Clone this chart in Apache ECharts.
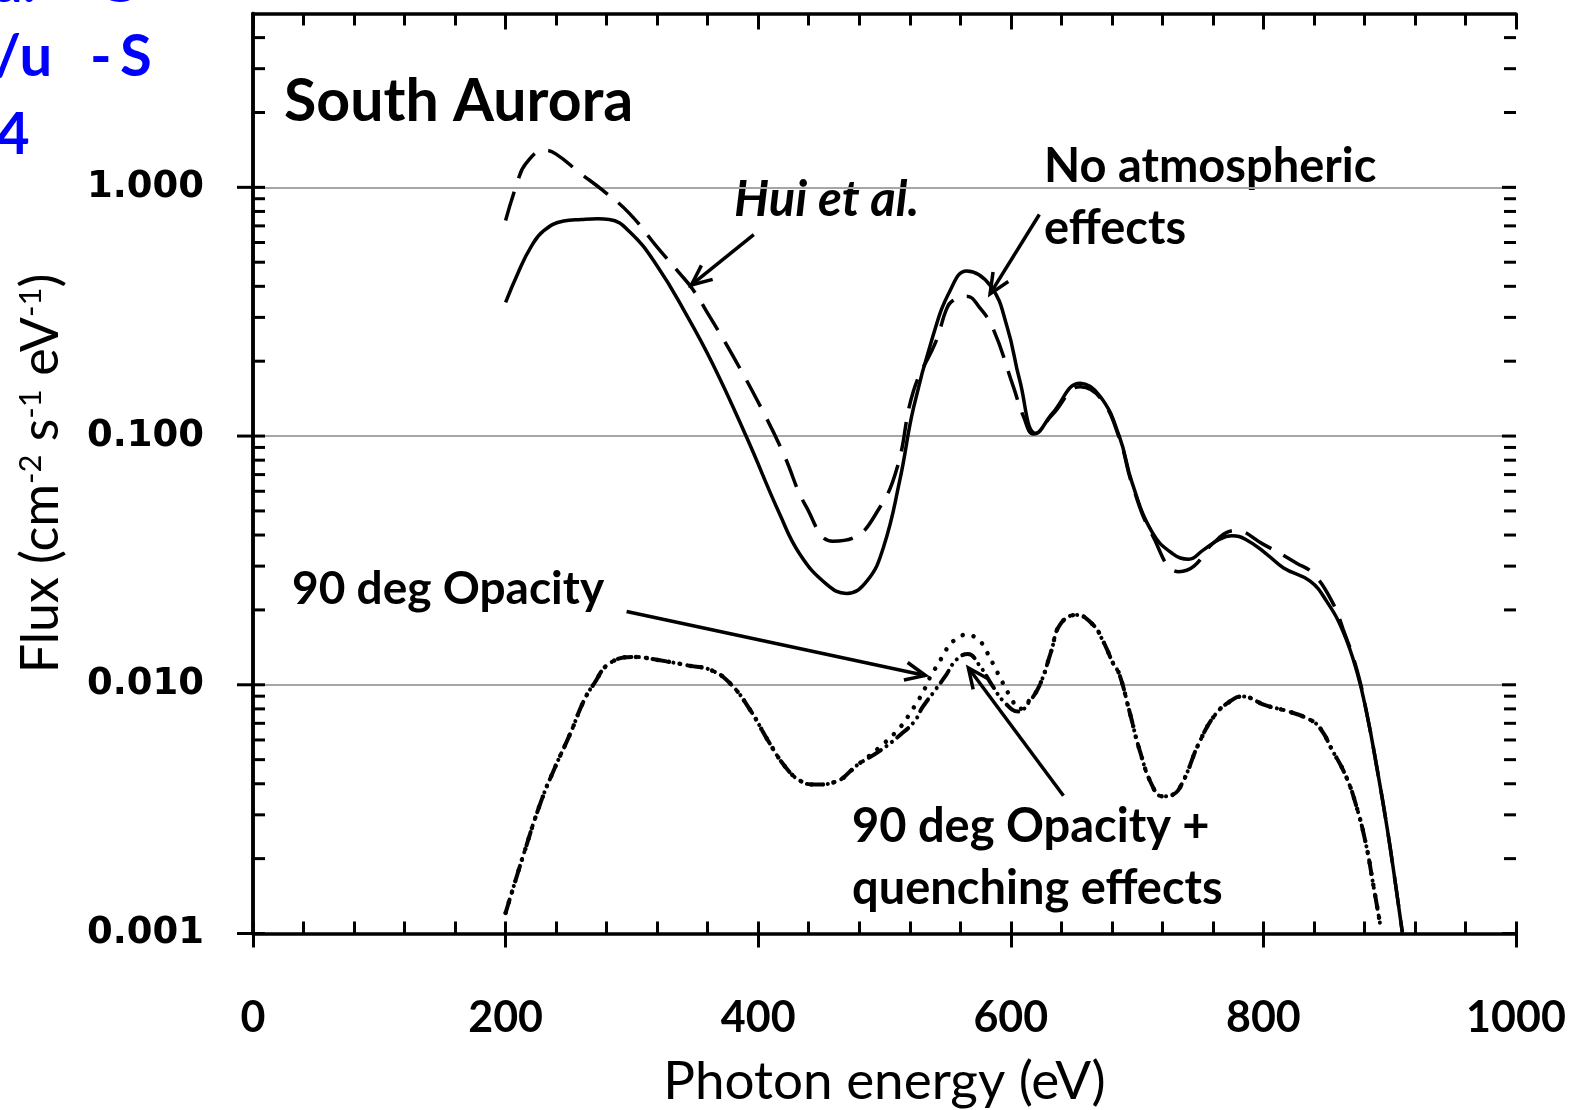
<!DOCTYPE html>
<html>
<head>
<meta charset="utf-8">
<script src="https://cdn.jsdelivr.net/npm/echarts@6/dist/echarts.min.js"></script>
<style>
html,body{margin:0;padding:0;background:#ffffff;}
#chart{width:1576px;height:1110px;}
</style>
</head>
<body>
<div id="chart"></div>
<script>
// ---------------- data (photon energy in eV, flux in cm^-2 s^-1 eV^-1) ----------------
const noAtmEnergy = [200,210,220,230,246,260,273,282,299,320,342,364,391,417,433,454,470,486,499,512,523,538,552,565,584,597,607,620,633,655,671,686,696,712,728,741,752,765,775,786,802,816,837,850,863,874,882,890,898,904,910];
const noAtmFlux = [0.345,0.455,0.575,0.668,0.732,0.742,0.747,0.743,0.657,0.483,0.315,0.195,0.0984,0.0486,0.0335,0.0254,0.0233,0.0261,0.0355,0.066,0.130,0.249,0.385,0.461,0.401,0.276,0.168,0.1025,0.1235,0.163,0.144,0.0994,0.065,0.041,0.0337,0.032,0.0347,0.0384,0.0397,0.0384,0.0337,0.0295,0.0261,0.0217,0.0164,0.0113,0.0076,0.0046,0.00265,0.00166,0.00101];

const huiEnergy = [200,209,216,231,240,259,277,298,320,338,348,362,380,404,420,438,459,475,496,510,523,541,549,554,565,575,586,602,610,618,633,655,671,686,696,712,733,745,760,778,800,826,840,855,863,874,882,890,898,904,910];
const huiFlux = [0.736,1.035,1.245,1.41,1.36,1.14,0.972,0.786,0.575,0.45,0.39,0.30,0.21,0.125,0.085,0.052,0.0378,0.0389,0.0514,0.0745,0.152,0.242,0.323,0.35,0.365,0.33,0.27,0.158,0.12,0.102,0.122,0.158,0.142,0.098,0.064,0.040,0.0285,0.030,0.037,0.0417,0.0367,0.0309,0.0278,0.0213,0.0168,0.0115,0.0076,0.0046,0.00265,0.00166,0.00101];

const opacityEnergy = [200,214,228,239,251,262,270,282,301,321,344,363,378,394,408,422,434,445,462,479,496,513,521,527,532,537,543,548,555,565,575,581,586,591,600,607,615,623,632,639,652,665,673,681,686,694,702,712,720,728,736,749,762,775,783,802,818,834,844,855,865,873,881,887,893];
const opacityFlux = [0.00121,0.00206,0.00339,0.00464,0.00633,0.00863,0.0101,0.01216,0.01294,0.01257,0.01197,0.01143,0.0101,0.00787,0.00594,0.00464,0.00409,0.00397,0.00409,0.00478,0.0056,0.0068,0.0078,0.0087,0.00966,0.01096,0.01223,0.01363,0.01506,0.0159,0.01506,0.01355,0.01213,0.01081,0.0089,0.0080,0.0087,0.0100,0.01364,0.01746,0.0191,0.01746,0.0150,0.0122,0.0110,0.0078,0.00546,0.00393,0.00356,0.00361,0.00405,0.00583,0.0076,0.00867,0.00897,0.00826,0.00786,0.00735,0.00678,0.0054,0.00433,0.00333,0.00231,0.00157,0.00105];

const quenchEnergy = [200,214,228,239,251,262,270,282,301,321,344,363,378,394,408,422,434,445,462,479,496,513,524,530,540,548,557,566,575,585,595,606,615,623,632,639,652,665,673,681,686,694,702,712,720,728,736,749,762,775,783,802,818,834,844,855,865,873,881,887,893];
const quenchFlux = [0.00121,0.00206,0.00339,0.00464,0.00633,0.00863,0.0101,0.01216,0.01294,0.01257,0.01197,0.01143,0.0101,0.00787,0.00594,0.00464,0.00409,0.00397,0.00409,0.00478,0.00541,0.00632,0.00716,0.00811,0.0095,0.0108,0.01262,0.0133,0.0120,0.0100,0.0085,0.0078,0.0086,0.0100,0.01364,0.01746,0.0191,0.01746,0.0150,0.0122,0.0110,0.0078,0.00546,0.00393,0.00356,0.00361,0.00405,0.00583,0.0076,0.00867,0.00897,0.00826,0.00786,0.00735,0.00678,0.0054,0.00433,0.00333,0.00231,0.00157,0.00105];

// axis ticks
const xMin = 0, xMax = 1000;
const yMin = 0.001, yMax = 5;
const decadeTicks = [0.001, 0.01, 0.1, 1];
const minorMultipliers = [2,3,4,5,6,7,8,9];

// annotation arrows: [fromEnergy, fromFlux, toEnergy, toFlux]
const arrowHui = [396.5, 0.645, 347.1, 0.405];
const arrowNoAtm = [622.6, 0.778, 583.6, 0.373];
const arrowOpacity = [295.8, 0.0197, 532.4, 0.0109];
const arrowQuench = [641.7, 0.00358, 566.4, 0.0117];

// annotation labels
const labelTitle = 'South Aurora';
const labelHui = 'Hui et al.';
const labelNoAtm = ['No atmospheric', 'effects'];
const labelOpacity = '90 deg Opacity';
const labelQuench = ['90 deg Opacity +', 'quenching effects'];

// ---------------- build ----------------
const zip = (a, b) => a.map((v, i) => [v, b[i]]);
const minorTickValues = [];
decadeTicks.forEach(d => minorMultipliers.forEach(m => { if (d * m < yMax) minorTickValues.push(d * m); }));

const isDecade = v => Math.abs(Math.log10(v) - Math.round(Math.log10(v))) < 1e-6;

const chart = echarts.init(document.getElementById('chart'), null, {renderer: 'canvas'});

const LW = 3.5;
const AXW = 3.5;

const lineBase = {
  type: 'line', xAxisIndex: 0, yAxisIndex: 0, showSymbol: false, symbol: 'none',
  smooth: 0.45, silent: true, animation: false, z: 5
};

function arrowRender(params, api) {
  const p1 = api.coord([api.value(0), api.value(1)]);
  const p2 = api.coord([api.value(2), api.value(3)]);
  const ang = Math.atan2(p2[1] - p1[1], p2[0] - p1[0]);
  const L = 22, a = 0.42;
  const h1 = [p2[0] - L * Math.cos(ang - a), p2[1] - L * Math.sin(ang - a)];
  const h2 = [p2[0] - L * Math.cos(ang + a), p2[1] - L * Math.sin(ang + a)];
  return {
    type: 'group',
    children: [
      {type: 'line', shape: {x1: p1[0], y1: p1[1], x2: p2[0], y2: p2[1]}, style: {stroke: '#000', lineWidth: 3.5}},
      {type: 'polyline', shape: {points: [h1, p2, h2]}, style: {stroke: '#000', lineWidth: 3.5, fill: null}}
    ]
  };
}

function yTickRender(params, api) {
  const v = api.value(1);
  const major = api.value(2) === 1;
  const pl = api.coord([xMin, v]);
  const pr = api.coord([xMax, v]);
  const inLen = 12;
  const children = [
    {type: 'line', shape: {x1: pl[0] - (major ? 16 : 0), y1: pl[1], x2: pl[0] + inLen, y2: pl[1]}, style: {stroke: '#000', lineWidth: 3}},
    {type: 'line', shape: {x1: pr[0] - (major ? 14 : inLen), y1: pr[1], x2: pr[0], y2: pr[1]}, style: {stroke: '#000', lineWidth: 3}}
  ];
  return {type: 'group', children};
}

const yTickData = decadeTicks.map(v => [xMin, v, 1]).concat(minorTickValues.map(v => [xMin, v, 0]));

const option = {
  animation: false,
  backgroundColor: '#ffffff',
  grid: {left: 253, right: 60, top: 13.5, bottom: 176.5, containLabel: false, outerBoundsMode: 'none'},
  xAxis: [
    {
      type: 'value', position: 'bottom', min: xMin, max: xMax, interval: 200,
      axisLine: {show: true, lineStyle: {color: '#000', width: AXW}},
      axisTick: {show: true, inside: false, length: 14, lineStyle: {color: '#000', width: 3}},
      axisLabel: {show: true, margin: 63, color: '#000', fontFamily: 'Lato', fontWeight: 'bold', fontSize: 43,
        formatter: v => String(Math.round(v))},
      splitLine: {show: false},
      name: 'Photon energy (eV)', nameLocation: 'middle', nameGap: 122,
      nameTextStyle: {color: '#000', fontFamily: 'Lato', fontSize: 53}
    },
    {
      type: 'value', position: 'bottom', min: xMin, max: xMax, interval: 40,
      axisLine: {show: false},
      axisTick: {show: true, inside: true, length: 12, lineStyle: {color: '#000', width: 3}},
      axisLabel: {show: false}, splitLine: {show: false}
    },
    {
      type: 'value', position: 'top', min: xMin, max: xMax, interval: 40,
      axisLine: {show: true, lineStyle: {color: '#000', width: AXW}},
      axisTick: {show: true, inside: true, length: 12, lineStyle: {color: '#000', width: 3}},
      axisLabel: {show: false}, splitLine: {show: false}
    },
    {
      type: 'value', position: 'top', min: xMin, max: xMax, interval: 200,
      axisLine: {show: false},
      axisTick: {show: true, inside: true, length: 16, lineStyle: {color: '#000', width: 3}},
      axisLabel: {show: false}, splitLine: {show: false}
    }
  ],
  yAxis: [
    {
      type: 'log', logBase: 10, position: 'left', min: yMin, max: yMax,
      axisLine: {show: true, lineStyle: {color: '#000', width: AXW}},
      axisTick: {show: false},
      axisLabel: {
        show: true, margin: 49, color: '#000', fontFamily: 'DejaVu Sans', fontWeight: 'bold', fontSize: 37,
        formatter: v => isDecade(v) ? Number(v).toFixed(3) : ''
      },
      splitLine: {show: true, lineStyle: {color: '#a6a6a6', width: 2}},
      name: 'Flux (cm{sup|-2} s{sup|-1} eV{sup|-1})',
      nameLocation: 'middle', nameRotate: 90, nameGap: 186,
      nameTextStyle: {
        color: '#000', fontFamily: 'Lato', fontSize: 52,
        rich: {sup: {fontFamily: 'Lato', fontSize: 31, color: '#000', verticalAlign: 'top', padding: [0, 0, 16, 0]}}
      }
    },
    {
      type: 'log', logBase: 10, position: 'right', min: yMin, max: yMax,
      axisLine: {show: true, lineStyle: {color: '#000', width: AXW}},
      axisTick: {show: false}, axisLabel: {show: false}, splitLine: {show: false}
    }
  ],
  series: [
    Object.assign({}, lineBase, {
      name: 'No atmospheric effects', data: zip(noAtmEnergy, noAtmFlux),
      lineStyle: {color: '#000', width: LW, type: 'solid'}
    }),
    Object.assign({}, lineBase, {
      name: 'Hui et al.', data: zip(huiEnergy, huiFlux),
      lineStyle: {color: '#000', width: LW, type: [30, 14], cap: 'butt'}
    }),
    Object.assign({}, lineBase, {
      name: '90 deg Opacity', data: zip(opacityEnergy, opacityFlux),
      lineStyle: {color: '#000', width: 4.5, type: [0.1, 11], cap: 'round'}
    }),
    Object.assign({}, lineBase, {
      name: '90 deg Opacity + quenching effects', data: zip(quenchEnergy, quenchFlux),
      lineStyle: {color: '#000', width: 4, type: [14, 7, 0.1, 7, 0.1, 7], cap: 'round'}
    }),
    {
      type: 'custom', name: 'arrows', xAxisIndex: 0, yAxisIndex: 0, silent: true, z: 6,
      encode: {x: [0, 2], y: [1, 3]},
      data: [arrowHui, arrowNoAtm, arrowOpacity, arrowQuench],
      renderItem: arrowRender
    },
    {
      type: 'custom', name: 'yticks', xAxisIndex: 0, yAxisIndex: 0, silent: true, z: 7, clip: false,
      encode: {x: 0, y: 1},
      data: yTickData,
      renderItem: yTickRender
    }
  ],
  graphic: [
    {type: 'text', left: 284, top: 72, style: {text: labelTitle, fill: '#000', font: 'bold 59px Lato'}},
    {type: 'text', left: 734, top: 176, style: {text: labelHui, fill: '#000', font: 'italic bold 49px Lato'}},
    {type: 'text', left: 1044, top: 143, style: {text: labelNoAtm[0], fill: '#000', font: 'bold 47px Lato'}},
    {type: 'text', left: 1044, top: 205, style: {text: labelNoAtm[1], fill: '#000', font: 'bold 47px Lato'}},
    {type: 'text', left: 292, top: 566, style: {text: labelOpacity, fill: '#000', font: 'bold 46px Lato'}},
    {type: 'text', left: 852, top: 803, style: {text: labelQuench[0], fill: '#000', font: 'bold 47px Lato'}},
    {type: 'text', left: 852, top: 865, style: {text: labelQuench[1], fill: '#000', font: 'bold 47px Lato'}},
    // cropped slide text at top-left
    {type: 'text', left: -6, top: -44, style: {text: 'a.', fill: '#0000ff', font: 'bold 56px Lato'}},
    {type: 'text', left: 96, top: -44, style: {text: 'G', fill: '#0000ff', font: 'bold 56px Lato'}},
    {type: 'text', left: -6, top: 28, style: {text: '/u', fill: '#0000ff', font: 'bold 58px Lato'}},
    {type: 'text', left: 90, top: 28, style: {text: '-', fill: '#0000ff', font: 'bold 58px Lato'}},
    {type: 'text', left: 120, top: 28, style: {text: 'S', fill: '#0000ff', font: 'bold 58px Lato'}},
    {type: 'text', left: -4, top: 106, style: {text: '4', fill: '#0000ff', font: 'bold 58px Lato'}}
  ]
};

chart.setOption(option);
</script>
</body>
</html>
